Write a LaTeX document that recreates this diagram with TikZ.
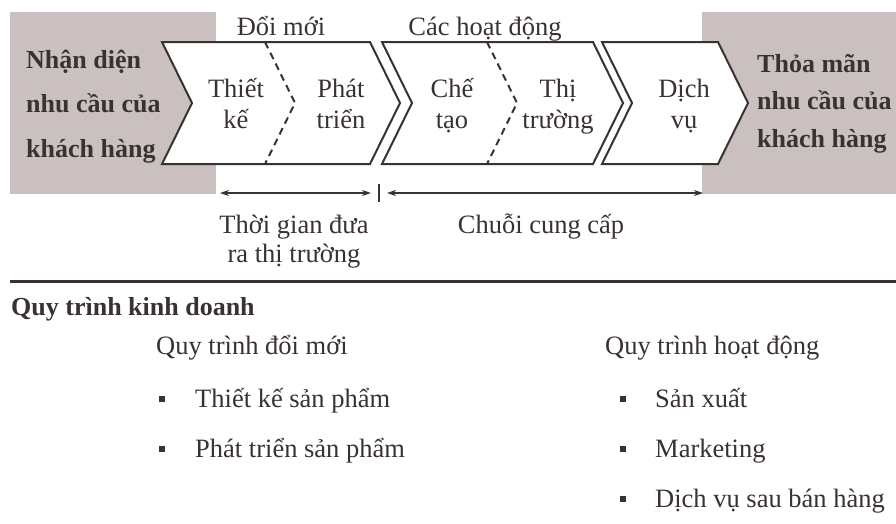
\documentclass[tikz,border=0pt]{standalone}
\usepackage{fontspec}
\setmainfont{Liberation Serif}
\usetikzlibrary{arrows.meta}
\definecolor{boxgray}{RGB}{201,192,191}
\definecolor{ink}{RGB}{58,50,50}

\begin{document}
\begin{tikzpicture}[x=1pt, y=-1pt,
    lbl/.style={font=\fontsize{26.5}{31}\selectfont, text=ink, inner sep=0pt, align=center, anchor=base},
    boldlbl/.style={lbl, font=\fontsize{26}{31}\selectfont\bfseries, align=left, anchor=base west},
    chev/.style={draw=ink, fill=white, line width=2pt, line join=miter},
    divline/.style={draw=ink, line width=2pt, dash pattern=on 7pt off 5pt},
    span/.style={draw=ink, line width=2pt, {Stealth[length=9pt,width=6pt]}-{Stealth[length=9pt,width=6pt]}},
    bul/.style={fill=ink, minimum size=6.5pt, inner sep=0pt}]
	    \useasboundingbox (0,0) rectangle (896,523);
	    \fill[white] (0,0) rectangle (896,523);

	    % gray end boxes
	    \fill[boxgray] (10,12) rectangle (216,194);
	    \fill[boxgray] (702,12) rectangle (896,194);

	    % chevrons and dashed splits
	    \foreach \a/\b in {162/370, 382/593, 602/718}
	      \draw[chev] (\a,42) -- (\b,42) -- (\b+30,103) -- (\b,164) -- (\a,164) -- (\a+30,103) -- cycle ;
	    \foreach \a in {265,487}
	      \draw[divline] (\a,42) -- (\a+30,103) -- (\a,164) ;

	    % texts in the chevrons (base = last line)
	    \node[lbl] (dm) at (281,35) {Đổi mới};
	    \node[lbl] (chd) at (485,35) {Các hoạt động};
	    \node[lbl] (tk) at (236,128) {Thiết\\kế};
	    \node[lbl] (pt) at (341,128) {Phát\\triển};
	    \node[lbl] (ct) at (452,128) {Chế\\tạo};
	    \node[lbl] (tt) at (558,128) {Thị\\trường};
	    \node[lbl] (dv) at (684,128) {Dịch\\vụ};

	    % customer needs
	    \node[boldlbl, font=\fontsize{26}{44.5}\selectfont\bfseries] (nhandien) at (26,157) {Nhận diện\\nhu cầu của\\khách hàng};
	    \node[boldlbl, font=\fontsize{26}{37.5}\selectfont\bfseries] (thoaman) at (757,147) {Thỏa mãn\\nhu cầu của\\khách hàng};

	    % time spans
	    \coordinate (tmL) at (220,193);
	    \coordinate (tmR) at (371,193);
	    \coordinate (tick) at (379,193);
	    \coordinate (scL) at (387,193);
	    \coordinate (scR) at (703,193);
	    \draw[span] (tmL) -- (tmR);
	    \draw[span] (scL) -- (scR);
	    \draw[ink, line width=2pt] ([yshift=9pt]tick) -- ([yshift=-9pt]tick);
	    \node[lbl, font=\fontsize{26.5}{29}\selectfont] (ttm) at (294,262) {Thời gian đưa\\ra thị trường};
	    \node[lbl] (cc) at (541,233) {Chuỗi cung cấp};

	    % separator
	    \draw[ink, line width=3pt] (10,281) -- (896,281);

	    % business processes
	    \node[boldlbl] (qtkd) at (11,315) {Quy trình kinh doanh};
	    \node[lbl, anchor=base west] (qtdm) at (156,354) {Quy trình đổi mới};
	    \node[lbl, anchor=base west] (qthd) at (605,354) {Quy trình hoạt động};
	    \foreach \t [count=\i] in {Thiết kế sản phẩm, Phát triển sản phẩm}
	    {
	      \node[bul] (bi\i) at (162,{349+50*\i}) {};
	      \node[lbl, anchor=base west] (inno\i) at (195,{357+50*\i}) {\t};
	    }
	    \foreach \t [count=\i] in {Sản xuất, Marketing, Dịch vụ sau bán hàng}
	    {
	      \node[bul] (bo\i) at (623,{349+50*\i}) {};
	      \node[lbl, anchor=base west] (ops\i) at (655,{357+50*\i}) {\t};
	    }
	  \end{tikzpicture}
\end{document}
